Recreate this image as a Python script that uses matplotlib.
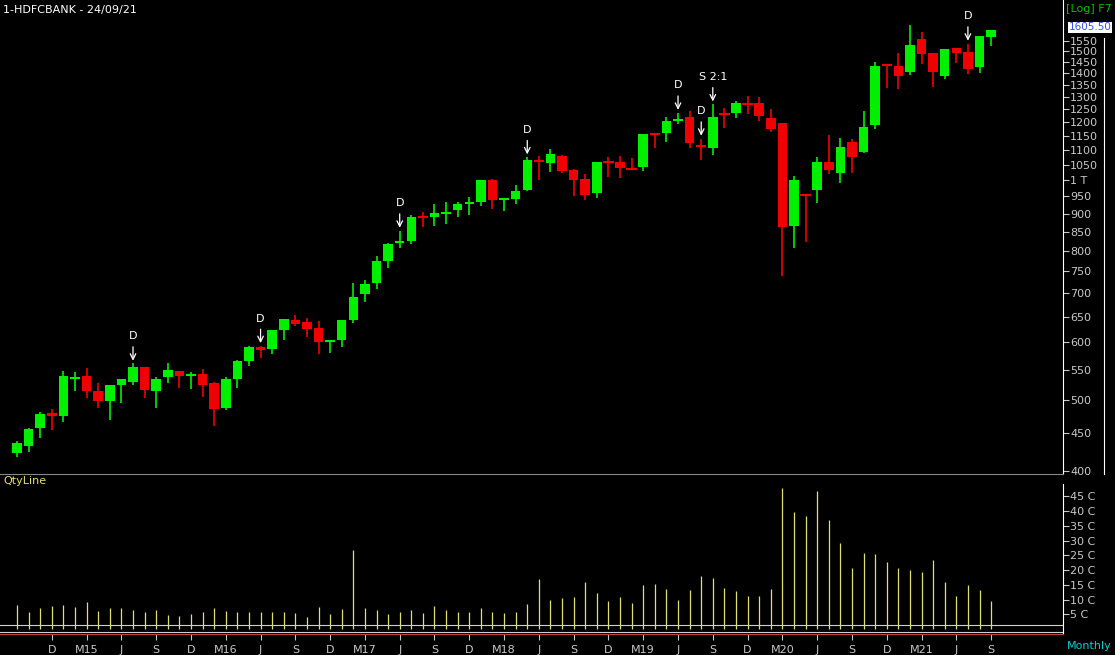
import matplotlib
matplotlib.use("Agg")
import matplotlib.pyplot as plt
import numpy as np

opens  = [423,432,458,480,476,535,540,514,498,525,530,555,514,537,548,540,542,527,488,535,565,590,588,623,643,640,627,601,605,643,
          698,723,774,821,826,892,890,901,909,926,934,1000,940,942,970,1067,1054,1079,1032,1003,960,1060,1060,1038,1041,1159,1159,1206,1221,1114,
          1106,1232,1236,1274,1274,1216,1197,864,955,970,1060,1023,1126,1091,1188,1438,1434,1404,1561,1492,1388,1517,1497,1427,1570]
highs  = [439,458,482,486,548,547,553,528,525,535,561,555,537,561,548,547,551,530,537,568,593,593,623,645,654,647,641,605,643,724,
          730,786,821,853,896,903,928,934,932,949,1000,1003,942,984,1075,1080,1102,1082,1035,1018,1060,1075,1078,1071,1155,1160,1221,1237,1242,1140,
          1270,1257,1282,1302,1298,1251,1197,1013,955,1075,1151,1143,1139,1242,1453,1440,1494,1630,1595,1492,1513,1517,1538,1574,1605]
lows   = [418,425,443,455,467,514,503,488,470,496,525,503,488,528,519,517,505,460,485,519,556,571,578,605,631,610,578,580,590,637,
          680,709,759,807,818,862,864,870,890,897,922,912,908,926,966,1000,1026,1023,951,940,945,1010,1008,1035,1029,1107,1128,1192,1106,1066,
          1081,1177,1218,1232,1203,1163,738,808,824,929,1020,991,1023,1088,1173,1335,1331,1393,1443,1342,1375,1448,1397,1400,1527]
closes = [437,457,479,476,540,537,514,498,525,535,555,516,535,550,540,542,525,486,535,565,590,586,623,645,636,626,601,603,643,692,
          721,774,818,826,890,888,901,903,926,934,1000,940,942,966,1067,1058,1085,1029,1000,954,1060,1056,1039,1035,1155,1155,1206,1212,1124,1110,
          1221,1228,1274,1270,1224,1173,862,1000,953,1060,1032,1110,1075,1181,1434,1434,1388,1533,1487,1406,1513,1492,1418,1574,1605.5]
volumes = [8.1,5.8,7,7.8,8.1,7.5,9.2,6,7,7,6.4,5.8,6.4,4.7,4.4,5,5.8,7,6,5.8,5.8,5.8,5.8,5.8,5.4,4,7.5,5,6.8,26.8,
           7,6.4,5,5.8,6.4,5.4,7.8,6.4,5.8,5.8,7,5.8,5.4,5.8,8.5,17,9.8,10.5,10.8,16,12.2,9.5,10.8,8.8,14.9,15.3,13.6,9.8,13.2,18,
           17.3,13.9,12.9,11.2,11.2,13.6,47.8,39.7,38.3,46.8,37,29.2,20.7,25.8,25.4,22.7,20.7,20,19.3,23.4,16,11.2,14.9,13.2,9.5]
marker_idx = [10,21,33,44,57,59,82]
split_idx = [60]
price_ticks = [400,450,500,550,600,650,700,750,800,850,900,950,1000,1050,1100,1150,1200,1250,1300,1350,1400,1450,1500,1550]
price_labels = [str(t) if t != 1000 else "1 T" for t in price_ticks]
vol_ticks = [5,10,15,20,25,30,35,40,45]
vol_labels = [f"{v} C" for v in vol_ticks]
xlabel_idx = [3,6,9,12,15,18,21,24,27,30,33,36,39,42,45,48,51,54,57,60,63,66,69,72,75,78,81,84]
xlabel_txt = ["D","M15","J","S","D","M16","J","S","D","M17","J","S","D","M18","J","S","D","M19","J","S","D","M20","J","S","D","M21","J","S"]

W, H = 1115, 655
fig = plt.figure(figsize=(W/100, H/100), dpi=100, facecolor="black")
GREEN, RED, GRAY = "#00f000", "#f00000", "#c8c8c8"
n = len(opens)
x = np.arange(n)
ax = fig.add_axes([0, 1-474/H, 1063/W, 474/H], facecolor="black")
for i in range(n):
    c = GREEN if closes[i] >= opens[i] else RED
    ax.vlines(i, lows[i], highs[i], color=c, lw=1.2)
    b0, b1 = sorted([opens[i], closes[i]])
    if b1/b0 < 1.004:
        ax.hlines((b0*b1)**0.5, i-0.45, i+0.45, color=c, lw=1.5)
    else:
        ax.bar(i, b1-b0, bottom=b0, width=0.82, color=c, edgecolor=c, lw=0)
for i in marker_idx + split_idx:
    lab = "D" if i in marker_idx else "S 2:1"
    ax.annotate("", xy=(i, highs[i]), xytext=(0, 14), textcoords="offset points",
                xycoords="data", arrowprops=dict(arrowstyle="->", color="white", lw=0.9),
                annotation_clip=False)
    ax.annotate(lab, xy=(i, highs[i]), xytext=(0, 16), textcoords="offset points",
                color="white", fontsize=8, ha="center", va="bottom")
ax.set_yscale("log")
ax.set_xlim(-1.47, 90.2)
ax.set_ylim(396, 1764)
ax.yaxis.tick_right()
ax.set_yticks(price_ticks)
ax.set_yticklabels(price_labels)
ax.yaxis.set_minor_locator(matplotlib.ticker.NullLocator())
ax.tick_params(axis="y", colors=GRAY, labelsize=8, length=4, pad=1)
ax.set_xticks([])
for s in ["top", "left"]:
    ax.spines[s].set_visible(False)
ax.spines["right"].set_color("white")
ax.spines["bottom"].set_color("#888888")
ax.text(1.005, 1618, "1605.50", transform=ax.get_yaxis_transform(), fontsize=7.5,
        color="#3050ff", va="center", ha="left", bbox=dict(facecolor="white", edgecolor="none", pad=0.2))

vax = fig.add_axes([0, 1-634/H, 1063/W, 150/H], facecolor="black")
vax.vlines(x, 0, volumes, color="#e0e070", lw=0.9)
vax.set_xlim(-1.47, 90.2)
vax.set_ylim(-1.7, 49.2)
vax.yaxis.tick_right()
vax.set_yticks(vol_ticks)
vax.set_yticklabels(vol_labels)
vax.tick_params(axis="y", colors=GRAY, labelsize=8, length=4, pad=1)
vax.set_xticks(xlabel_idx)
vax.set_xticklabels(xlabel_txt)
vax.tick_params(axis="x", colors=GRAY, labelsize=8, length=4, pad=4)
vax.axhline(-0.9, color="#d0d0d0", lw=0.8)
vax.axhline(1.5, color="#d0d0d0", lw=0.8)
for s in ["top", "left"]:
    vax.spines[s].set_visible(False)
vax.spines["right"].set_color("white")
vax.spines["bottom"].set_color("#c04040")

fig.add_artist(plt.Line2D([1104/W, 1104/W], [1-38/H, 1-474/H], color="white", lw=0.8))
fig.text(3/W, 1-10/H, "1-HDFCBANK - 24/09/21", color="white", fontsize=8, va="center")
fig.text(3/W, 1-481/H, "QtyLine", color="#e0e070", fontsize=8, va="center")
fig.text(1112/W, 1-646/H, "Monthly", color="#00d0d0", fontsize=8, va="center", ha="right")
fig.text(1112/W, 1-9/H, "[Log] F7", color="#00c000", fontsize=8, va="center", ha="right")
fig.savefig("out.png", dpi=100, facecolor="black")
